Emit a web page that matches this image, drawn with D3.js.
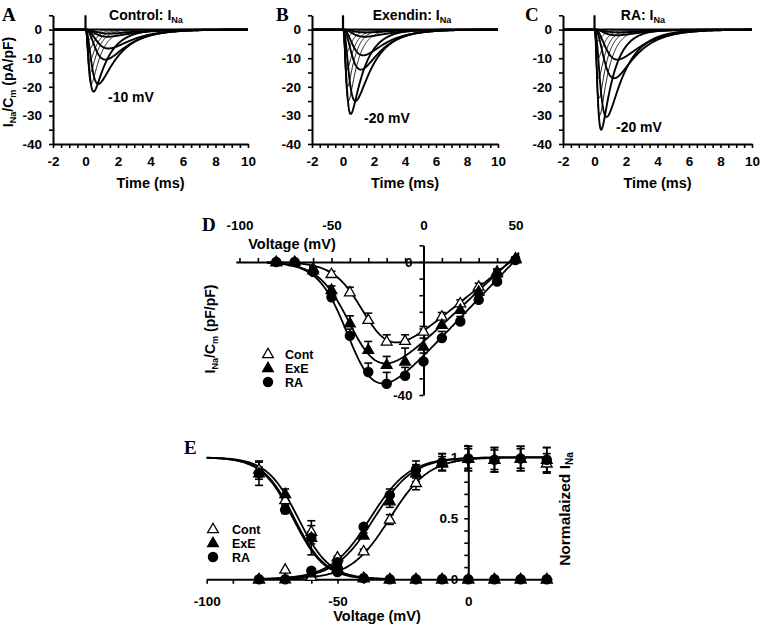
<!DOCTYPE html>
<html><head><meta charset="utf-8">
<script src="https://cdn.jsdelivr.net/npm/d3@7"></script>
<style>
body{margin:0;background:#fff}
svg text{font-family:"Liberation Sans",Arial,Helvetica,sans-serif;font-weight:bold;fill:#000}
.letter{font-family:"Liberation Serif","Times New Roman",serif !important;font-size:19px}
</style>
</head><body>
<svg id="c" width="760" height="627"></svg>
<script>
// ---------------- DATA ----------------
// Panels A-C: current traces (peak current pA/pF, activation tau ms, inactivation tau ms) per step voltage
const ctrlVolt  = [-60, -50, -40, -30, -20, -10, 0, 10, 20, 30, 40];
const ctrlPeak  = [-1.4, -2.5, -6.6, -10.5, -19, -21.7, -19, -15, -11, -7, -3.5];
const ctrlTauM  = [0.7, 0.65, 0.75, 0.6, 0.3, 0.18, 0.13, 0.11, 0.1, 0.09, 0.08];
const ctrlTauH  = [1.6, 1.5, 1.4, 1.35, 1.3, 0.9, 0.6, 0.5, 0.45, 0.4, 0.35];
const exeVolt   = [-70, -60, -50, -40, -30, -20, -10, 0, 10, 20, 30];
const exePeak   = [-1.0, -2.5, -9, -14, -25, -29.5, -25, -20, -14, -8, -3];
const exeTauM   = [0.75, 0.7, 0.65, 0.55, 0.32, 0.18, 0.13, 0.11, 0.1, 0.09, 0.08];
const exeTauH   = [1.6, 1.5, 1.4, 1.3, 1.2, 0.9, 0.6, 0.5, 0.45, 0.4, 0.35];
const raVolt    = [-70, -60, -50, -40, -30, -20, -10, 0, 10, 20, 30];
const raPeak    = [-1.0, -2.0, -10.5, -17, -30.5, -35, -30, -24, -17, -10, -4];
const raTauM    = [0.8, 0.7, 0.75, 0.6, 0.3, 0.15, 0.12, 0.11, 0.1, 0.09, 0.08];
const raTauH    = [1.6, 1.5, 1.5, 1.4, 1.2, 0.8, 0.6, 0.5, 0.45, 0.4, 0.35];
const capSpikeAmp = 5;
const traceTimeTicks = [-2,-1.5,-1,-0.5,0,0.5,1,1.5,2,2.5,3,3.5,4,4.5,5,5.5,6,6.5,7,7.5,8,8.5,9,9.5,10];
const traceTimeLabels = [-2, 0, 2, 4, 6, 8, 10];
const traceCurTicks = [-40,-35,-30,-25,-20,-15,-10,-5,0,5];
const traceCurLabels = [-40,-30,-20,-10,0];

// Panel D: I-V relation
const ivVolt   = [-80,-70,-60,-50,-40,-30,-20,-10,0,10,20,30,40,50];
const ivCont   = [0, 0, -1.9, -3.6, -9.1, -17.4, -23.9, -23.7, -20.9, -16.4, -12.4, -7.4, -2.9, 1.0];
const ivExE    = [0, 0, -2.5, -8.4, -18.4, -26.4, -30.9, -29.9, -25.4, -18.9, -14.4, -8.9, -3.4, 1.0];
const ivRA     = [0, 0, -3.0, -10.6, -22.2, -33.1, -36.6, -34.2, -29.9, -22.9, -17.9, -11.4, -5.9, 0.6];
const ivContErr= [0, 0, 0.5, 0.8, 1.5, 2.0, 2.0, 1.8, 1.5, 1.2, 1.0, 1.0, 0.8, 0.5];
const ivExEErr = [0, 0, 0.8, 1.2, 2.2, 2.5, 2.5, 4.0, 2.5, 2.0, 1.5, 1.2, 1.0, 0.5];
const ivRAErr  = [0, 0, 0.8, 1.2, 2.0, 2.7, 3.4, 2.5, 2.5, 2.0, 1.5, 1.2, 1.0, 0.5];
// fitted Boltzmann-Ohmic parameters: Gmax, Vrev, V1/2, k  (Cont, ExE, RA)
const ivFitG    = [0.45, 0.52, 0.58];
const ivFitVrev = [47, 46.6, 49];
const ivFitVh   = [-30, -37, -38.5];
const ivFitK    = [8, 8.5, 8];
const ivTicks   = [-100,-90,-80,-70,-60,-50,-40,-30,-20,-10,0,10,20,30,40,50];
const ivTickLabels = [-100, -50, 0, 50];
const ivCurTicks = [-40,-35,-30,-25,-20,-15,-10,-5,0,5];
const ivCurLabels = [0, -40];

// Panel E: activation / steady-state inactivation
const eVolt     = [-80,-70,-60,-50,-40,-30,-20,-10,0,10,20,30];
const actCont   = [0, 0.08, 0.02, 0.18, 0.23, 0.49, 0.79, 0.95, 0.99, 0.98, 0.99, 0.95];
const actExE    = [0, 0, 0.05, 0.12, 0.36, 0.64, 0.87, 0.96, 0.99, 0.98, 0.99, 0.98];
const actRA     = [0, 0, 0.07, 0.14, 0.43, 0.69, 0.90, 0.96, 0.99, 0.98, 0.99, 0.98];
const actErr    = [0, 0, 0, 0.01, 0.02, 0.05, 0.07, 0.07, 0.1, 0.1, 0.1, 0.1];
const inactCont = [0.90, 0.65, 0.39, 0.08, 0.01, 0, 0, 0, 0, 0, 0, 0];
const inactExE  = [0.87, 0.70, 0.34, 0.09, 0.01, 0, 0, 0, 0, 0, 0, 0];
const inactRA   = [0.87, 0.57, 0.34, 0.06, 0.01, 0, 0, 0, 0, 0, 0, 0];
const inactContErr = [0.06, 0.04, 0.05, 0.02, 0, 0, 0, 0, 0, 0, 0, 0];
const inactExEErr  = [0.10, 0.04, 0.05, 0.02, 0, 0, 0, 0, 0, 0, 0, 0];
const inactRAErr   = [0.05, 0.03, 0.14, 0.02, 0, 0, 0, 0, 0, 0, 0, 0];
// Boltzmann fits: V1/2, k (Cont, ExE, RA)
const actFitVh   = [-30, -36, -37.5];
const actFitK    = [7.5, 7.5, 7.5];
const inactFitVh = [-65, -66.5, -67];
const inactFitK  = [6, 6, 6];
const eTicks     = [-100,-90,-80,-70,-60,-50,-40,-30,-20,-10,0,10,20,30];
const eTickLabels = [-100, -50, 0];
const eNormTicks = [0,0.1,0.2,0.3,0.4,0.5,0.6,0.7,0.8,0.9,1.0,1.1];
const eNormLabels = [0, 0.5, 1];

const seriesNames = ["Cont", "ExE", "RA"];

// ---------------- DRAWING ----------------
const svg = d3.select("#c");
const FS = 13.5;

function styleAxis(g) {
  g.attr("font-size", FS).attr("font-family", null);
  g.select(".domain").attr("stroke", "#000").attr("stroke-width", 2);
  g.selectAll(".tick line").attr("stroke", "#000").attr("stroke-width", 1.6);
  g.selectAll(".tick text").style("font-weight", "bold");
}
function fmt(labels) { return d => labels.some(l => Math.abs(l - d) < 1e-9) ? String(d) : ""; }

function addText(x, y, parts, opts = {}) {
  const t = svg.append("text").attr("x", x).attr("y", y)
    .attr("font-size", opts.size || 14).attr("text-anchor", opts.anchor || "middle");
  if (opts.rotate) t.attr("transform", `rotate(${opts.rotate},${x},${y})`);
  let shifted = 0;
  parts.forEach(p => {
    if (typeof p === "string") {
      t.append("tspan").attr("dy", -shifted).text(p); shifted = 0;
    } else {
      t.append("tspan").attr("dy", 3 - shifted).attr("font-size", (opts.size || 14) * 0.65).text(p.sub); shifted = 3;
    }
  });
  return t;
}
function legendText(x, y0, step) {
  seriesNames.forEach((n, k) => addText(x, y0 + k * step, [n], { anchor: "start", size: 12.5 }));
}

// ---- Panels A-C ----
function tracePanel(x0, x1, volts, peaks, tauM, tauH, peakV, title, label, labelPos, letter, letterX, showYLabel) {
  const x = d3.scaleLinear().domain([-2, 10]).range([x0, x1]);
  const y = d3.scaleLinear().domain([-40, 5]).range([144, 15.3]);
  const line = d3.line().x(d => x(d[0])).y(d => y(d[1]));
  const ts = d3.range(-2, 10.0001, 0.02);
  peaks.forEach((pk, i) => {
    const f = t => t <= 0 ? 0 : Math.pow(1 - Math.exp(-t / tauM[i]), 3) * Math.exp(-t / tauH[i]);
    const fmax = d3.max(ts, f);
    const pts = ts.map(t => [t, pk * f(t) / fmax]);
    svg.append("path").attr("d", line(pts)).attr("fill", "none").attr("stroke", "#000")
      .attr("stroke-width", volts[i] <= peakV ? 1.9 : 0.9).attr("stroke-linejoin", "round");
  });
  // baseline + capacitive transient
  svg.append("path").attr("d", line([[-2, 0], [10, 0]])).attr("stroke", "#000").attr("stroke-width", 2);
  svg.append("path").attr("d", line([[0, 0], [0, capSpikeAmp]])).attr("stroke", "#000").attr("stroke-width", 2.2);
  svg.append("g").attr("transform", `translate(0,${y(-40)})`)
    .call(d3.axisBottom(x).tickValues(traceTimeTicks).tickFormat(fmt(traceTimeLabels)).tickSize(4).tickPadding(8).tickSizeOuter(0))
    .call(styleAxis);
  svg.append("g").attr("transform", `translate(${x(-2)},0)`)
    .call(d3.axisLeft(y).tickValues(traceCurTicks).tickFormat(fmt(traceCurLabels)).tickSize(4).tickPadding(7).tickSizeOuter(0))
    .call(styleAxis);
  addText((x0 + x1) / 2, 188, ["Time (ms)"], { size: 14.5 });
  addText(title.x, 20, title.parts);
  addText(labelPos[0], labelPos[1], [label], { anchor: "start" });
  svg.append("text").attr("class", "letter").attr("x", letterX).attr("y", 21).text(letter);
  if (showYLabel) addText(12.5, 82, ["I", { sub: "Na" }, "/C", { sub: "m" }, " (pA/pF)"], { rotate: -90 });
}

tracePanel(53, 248, ctrlVolt, ctrlPeak, ctrlTauM, ctrlTauH, -10,
  { x: 146, parts: ["Control: I", { sub: "Na" }] }, "-10 mV", [108, 102], "A", 2, true);
tracePanel(312, 498, exeVolt, exePeak, exeTauM, exeTauH, -20,
  { x: 412, parts: ["Exendin: I", { sub: "Na" }] }, "-20 mV", [364, 123], "B", 276, false);
tracePanel(563, 752, raVolt, raPeak, raTauM, raTauH, -20,
  { x: 643, parts: ["RA: I", { sub: "Na" }] }, "-20 mV", [616, 132], "C", 525, false);

// symbol helpers
const triSym = d3.symbol().type(d3.symbolTriangle).size(50);
const cirSym = d3.symbol().type(d3.symbolCircle).size(66);
function marker(g, kind, cx, cy) {
  const p = g.append("path").attr("transform", `translate(${cx},${cy})`).attr("stroke", "#000").attr("stroke-width", 1.3);
  if (kind === 0) p.attr("d", triSym()).attr("fill", "#fff").attr("transform", `translate(${cx},${cy + 0.5})`);
  else if (kind === 1) p.attr("d", triSym()).attr("fill", "#000").attr("transform", `translate(${cx},${cy + 0.5})`);
  else p.attr("d", cirSym()).attr("fill", "#000");
}

// ---- Panel D ----
{
  const x = d3.scaleLinear().domain([-102, 53]).range([235.8, 521.0]);
  const y = d3.scaleLinear().domain([-40, 5]).range([395, 245.3]);
  const g = svg.append("g");
  g.append("g").attr("transform", `translate(0,${y(0)})`)
    .call(d3.axisTop(x).tickValues(ivTicks).tickFormat(fmt(ivTickLabels)).tickSize(4).tickPadding(28).tickSizeOuter(0))
    .call(styleAxis);
  g.append("g").attr("transform", `translate(${x(0)},0)`)
    .call(d3.axisLeft(y).tickValues(ivCurTicks).tickFormat(fmt(ivCurLabels)).tickSize(4).tickPadding(7).tickSizeOuter(0))
    .call(styleAxis);
  const series = [ivCont, ivExE, ivRA], errs = [ivContErr, ivExEErr, ivRAErr];
  const vs = d3.range(-85, 52.01, 0.5);
  const line = d3.line().x(d => x(d[0])).y(d => y(d[1]));
  series.forEach((s, k) => {
    const fit = vs.map(v => [v, ivFitG[k] * (v - ivFitVrev[k]) / (1 + Math.exp((ivFitVh[k] - v) / ivFitK[k]))]);
    g.append("path").attr("d", line(fit)).attr("fill", "none").attr("stroke", "#000").attr("stroke-width", 1.8);
  });
  series.forEach((s, k) => {
    s.forEach((val, i) => {
      const e = errs[k][i];
      if (e > 0) {
        const cx = x(ivVolt[i]);
        g.append("line").attr("x1", cx).attr("x2", cx).attr("y1", y(val)).attr("y2", y(val + e)).attr("stroke", "#000").attr("stroke-width", 1.6);
        g.append("line").attr("x1", cx - 4).attr("x2", cx + 4).attr("y1", y(val + e)).attr("y2", y(val + e)).attr("stroke", "#000").attr("stroke-width", 1.6);
      }
    });
  });
  series.forEach((s, k) => s.forEach((val, i) => marker(g, k, x(ivVolt[i]), y(val))));
  addText(292, 249, ["Voltage (mV)"], { size: 14.5 });
  addText(214.5, 329, ["I", { sub: "Na" }, "/C", { sub: "m" }, " (pF/pF)"], { rotate: -90 });
  svg.append("text").attr("class", "letter").attr("x", 202).attr("y", 231).text("D");
  seriesNames.forEach((n, k) => marker(g, k, 268, 354 + k * 14));
  legendText(285, 358.5, 14);
}

// ---- Panel E ----
{
  const x = d3.scaleLinear().domain([-100, 32]).range([206.7, 552]);
  const y = d3.scaleLinear().domain([0, 1.1]).range([579.3, 445.1]);
  const g = svg.append("g");
  g.append("g").attr("transform", `translate(0,${y(0)})`)
    .call(d3.axisBottom(x).tickValues(eTicks).tickFormat(fmt(eTickLabels)).tickSize(4.5).tickPadding(13).tickSizeOuter(0))
    .call(styleAxis);
  g.append("g").attr("transform", `translate(${x(0)},0)`)
    .call(d3.axisLeft(y).tickValues(eNormTicks).tickFormat(fmt(eNormLabels)).tickSize(4).tickPadding(6).tickSizeOuter(0))
    .call(styleAxis);
  const line = d3.line().x(d => x(d[0])).y(d => y(d[1]));
  const inVs = d3.range(-100, -29.99, 0.5), acVs = d3.range(-80, 30.01, 0.5);
  [0, 1, 2].forEach(k => {
    const inFit = inVs.map(v => [v, 1 / (1 + Math.exp((v - inactFitVh[k]) / inactFitK[k]))]);
    const acFit = acVs.map(v => [v, 1 / (1 + Math.exp((actFitVh[k] - v) / actFitK[k]))]);
    g.append("path").attr("d", line(inFit)).attr("fill", "none").attr("stroke", "#000").attr("stroke-width", 1.8);
    g.append("path").attr("d", line(acFit)).attr("fill", "none").attr("stroke", "#000").attr("stroke-width", 1.8);
  });
  const acts = [actCont, actExE, actRA], inacts = [inactCont, inactExE, inactRA];
  const inErrs = [inactContErr, inactExEErr, inactRAErr];
  function ebar(cx, val, e) {
    if (e <= 0) return;
    g.append("line").attr("x1", cx).attr("x2", cx).attr("y1", y(val - e)).attr("y2", y(val + e)).attr("stroke", "#000").attr("stroke-width", 1.6);
    [val - e, val + e].forEach(v => g.append("line").attr("x1", cx - 4).attr("x2", cx + 4).attr("y1", y(v)).attr("y2", y(v)).attr("stroke", "#000").attr("stroke-width", 1.6));
  }
  [0, 1, 2].forEach(k => eVolt.forEach((v, i) => {
    ebar(x(v), acts[k][i], k === 0 ? actErr[i] * 0.8 : actErr[i]);
    ebar(x(v), inacts[k][i], inErrs[k][i]);
  }));
  [0, 1, 2].forEach(k => eVolt.forEach((v, i) => {
    marker(g, k, x(v), y(acts[k][i]));
    marker(g, k, x(v), y(inacts[k][i]));
  }));
  addText(377, 621, ["Voltage (mV)"], { size: 14.5 });
  addText(569.5, 509, ["Normalaized I", { sub: "Na" }], { rotate: -90, size: 15.5 });
  svg.append("text").attr("class", "letter").attr("x", 184).attr("y", 454).text("E");
  seriesNames.forEach((n, k) => marker(g, k, 213, 529 + k * 14));
  legendText(232, 533.5, 14);
}
</script>
</body></html>
